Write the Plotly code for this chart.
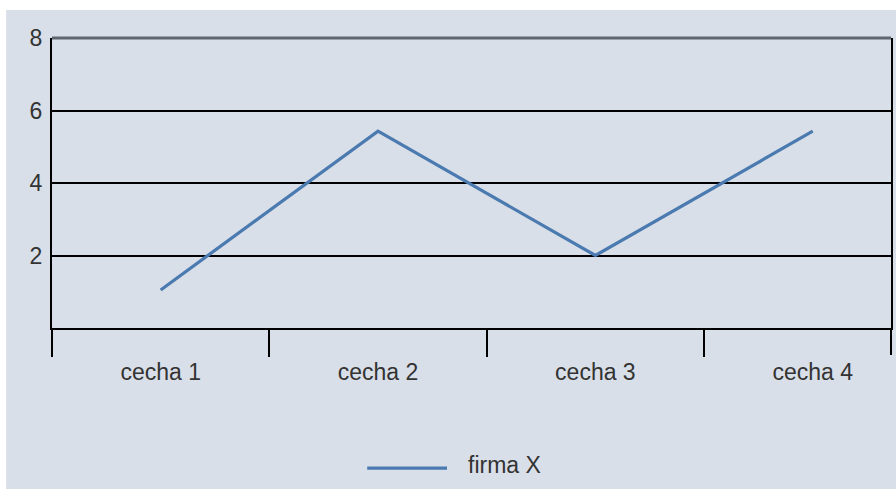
import plotly.graph_objects as go

# Data
categories = ["cecha 1", "cecha 2", "cecha 3", "cecha 4"]
firma_x = [1.05, 5.43, 2.0, 5.43]
y_ticks = [2, 4, 6, 8]
series_name = "firma X"

BG = "#d9dfe8"
LINE = "#4a7ab0"
TXT = "#333333"
FONT = "Liberation Sans"
FS = 23

fig = go.Figure()
fig.add_trace(go.Scatter(
    x=categories, y=firma_x, mode="lines", name=series_name,
    line=dict(color=LINE, width=3.2), showlegend=False,
))

fig.update_layout(
    width=896, height=489,
    margin=dict(l=52, r=3, t=38, b=161),
    paper_bgcolor="white",
    plot_bgcolor=BG,
    font=dict(family=FONT, size=FS, color=TXT),
    xaxis=dict(
        type="category", range=[-0.5, 3.36],
        tickson="boundaries", ticks="outside", ticklen=27, tickwidth=2,
        tickcolor="black", showgrid=False, showline=True, linecolor="black",
        linewidth=2, ticklabelstandoff=22,
        tickfont=dict(size=FS, color=TXT), fixedrange=True,
    ),
    yaxis=dict(
        range=[0, 8], tickvals=y_ticks, showgrid=True, gridcolor="black",
        gridwidth=2, zeroline=False, showline=True, mirror=True,
        linecolor="black", linewidth=2, ticks="", ticklabelstandoff=3,
        tickfont=dict(size=FS, color=TXT), fixedrange=True,
    ),
    shapes=[
        # panel background with a thin white border on top and left
        dict(type="rect", xref="paper", yref="paper", x0=-0.0547, x1=1.01,
             y0=-0.6, y1=1.0966, fillcolor=BG, line=dict(width=0), layer="below"),
        # darker top frame line
        dict(type="line", xref="paper", yref="paper", x0=0, x1=1, y0=1, y1=1,
             line=dict(color="#5f6670", width=3)),
        # closing tick on the right edge
        dict(type="line", xref="paper", yref="paper", x0=1, x1=1, y0=0, y1=-0.093,
             line=dict(color="black", width=2)),
        # legend sample line
        dict(type="line", xref="paper", yref="paper", x0=0.3757, x1=0.4708,
             y0=-0.483, y1=-0.483, line=dict(color=LINE, width=3.2)),
    ],
    annotations=[
        dict(text=series_name, xref="paper", yref="paper", x=0.493, y=-0.472,
             xanchor="left", yanchor="middle", showarrow=False,
             font=dict(size=FS, color=TXT)),
    ],
)

fig.write_html("out.html")
